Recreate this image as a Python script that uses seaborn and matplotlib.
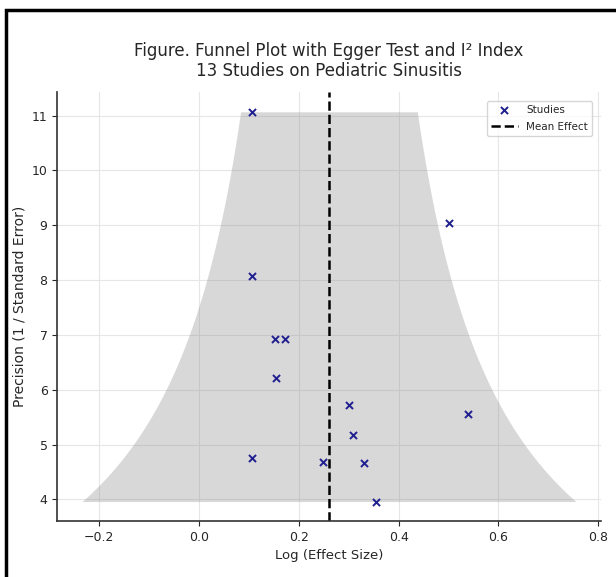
import numpy as np
import pandas as pd
import matplotlib
matplotlib.use("Agg")
import matplotlib.pyplot as plt
import seaborn as sns
from matplotlib.patches import Rectangle

# values
effect_size = [0.107, 0.50, 0.107, 0.153, 0.173, 0.154, 0.301, 0.54, 0.309, 0.107, 0.248, 0.33, 0.355]
precision = [11.07, 9.05, 8.07, 6.92, 6.93, 6.22, 5.72, 5.55, 5.18, 4.75, 4.68, 4.66, 3.96]

df = pd.DataFrame({"effect": effect_size, "precision": precision})
mean_effect = np.mean(effect_size)

sns.set_style("ticks")

fig, ax = plt.subplots(figsize=(6.16, 5.77), dpi=100)
fig.subplots_adjust(left=0.093, right=0.975, bottom=0.097, top=0.84)

# 95% funnel around the mean
p_line = np.linspace(df.precision.min(), df.precision.max(), 200)
ax.fill_betweenx(p_line, mean_effect - 1.96 / p_line, mean_effect + 1.96 / p_line,
                 color="gray", alpha=0.3, linewidth=0)

sns.scatterplot(data=df, x="effect", y="precision", marker="x", color="#1f1f8f",
                s=26, linewidth=1.4, label="Studies", ax=ax, zorder=3)
ax.axvline(mean_effect, color="black", linestyle="--", linewidth=1.8, label="Mean Effect")

ax.grid(True, color="#e6e6e6", linewidth=0.8)
ax.set_axisbelow(True)
ax.set_xticks([-0.2, 0.0, 0.2, 0.4, 0.6, 0.8])
ax.set_yticks(range(4, 12))
ax.tick_params(labelsize=9)
sns.despine(ax=ax)
for s in ["left", "bottom"]:
    ax.spines[s].set_color("#333333")
    ax.spines[s].set_linewidth(1.2)

ax.set_xlabel("Log (Effect Size)", fontsize=9.5)
ax.set_ylabel("Precision (1 / Standard Error)", fontsize=10)
ax.set_title("Figure. Funnel Plot with Egger Test and I² Index\n13 Studies on Pediatric Sinusitis",
             fontsize=12, pad=12, linespacing=1.1)
ax.legend(loc="upper right", fontsize=7.5, frameon=True, handlelength=2.6,
          labelspacing=0.7, borderaxespad=0.8)

# black frame round the picture, as in the screenshot
fig.patches.append(Rectangle((6 / 616, -0.05), 1.2, 1 - 10 / 577 + 0.05,
                             transform=fig.transFigure, fill=False,
                             edgecolor="black", linewidth=2.5))

fig.savefig("out.png", dpi=100)
